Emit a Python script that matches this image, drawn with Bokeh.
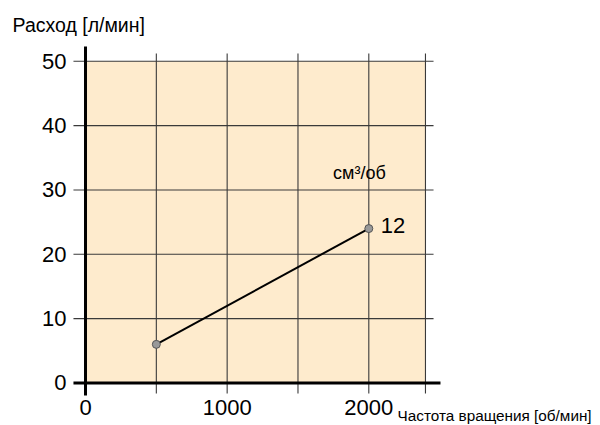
from bokeh.plotting import figure
from bokeh.models import Range1d, FixedTicker, Label, ColumnDataSource
from bokeh.core.properties import value
from bokeh.embed import file_html
from bokeh.resources import INLINE

# ---- data ----
speed_rpm = [500, 2000]
flow_lpm = [6, 24]
series_label = ["12"]
unit_label = ["см³/об"]
x_ticks = [0, 1000, 2000]
y_ticks = [0, 10, 20, 30, 40, 50]
grid_x = [500, 1000, 1500, 2000, 2400]
grid_y = [10, 20, 30, 40, 50]
area_x_max = 2400
area_y_max = 50
y_title = "Расход [л/мин]"
x_title = "Частота вращения [об/мин]"

FONT = "Liberation Sans"
# visible plot ranges (whole canvas is the frame)
x_lo, x_hi = -600.1, 3635.7
y_lo, y_hi = -6.61, 59.45
# extents of axis/grid lines
ax_x0, ax_x1 = -85, 2506
ax_y0, ax_y1 = -1.94, 52.3

p = figure(width=600, height=425, output_backend="svg", toolbar_location=None,
           x_range=Range1d(x_lo, x_hi), y_range=Range1d(y_lo, y_hi),
           min_border_left=0, min_border_right=0, min_border_top=0,
           min_border_bottom=0)
p.outline_line_color = None
p.grid.visible = False
p.background_fill_color = "white"

# axes: labels only, fixed at the chart's corner
for ax in (p.xaxis[0], p.yaxis[0]):
    ax.axis_line_color = None
    ax.major_tick_line_color = None
    ax.minor_tick_line_color = None
    ax.major_tick_out = 0
    ax.major_tick_in = 0
    ax.major_label_text_font = FONT
    ax.major_label_text_font_size = "22px"
    ax.major_label_text_color = "black"
p.xaxis.ticker = FixedTicker(ticks=x_ticks)
p.yaxis.ticker = FixedTicker(ticks=y_ticks)
p.xaxis.fixed_location = ax_y0
p.yaxis.fixed_location = ax_x0
p.xaxis.major_label_standoff = 5
p.yaxis.major_label_standoff = 7

# shaded area
p.quad(left=[0], right=[area_x_max], bottom=[0], top=[area_y_max],
       fill_color="#FEEBCD", line_color=None)

# grid lines
p.segment(x0=[ax_x0] * len(grid_y), y0=grid_y, x1=[2457] * len(grid_y), y1=grid_y,
          line_color="#3a3a3a", line_width=1.1)
p.segment(x0=grid_x, y0=[-1.63] * len(grid_x), x1=grid_x, y1=[51.2] * len(grid_x),
          line_color="#3a3a3a", line_width=1.1)

# axis lines
p.segment(x0=[0], y0=[ax_y0], x1=[0], y1=[ax_y1], line_color="black", line_width=3)
p.segment(x0=[ax_x0], y0=[0], x1=[ax_x1], y1=[0], line_color="black", line_width=3)

# data
src = ColumnDataSource(dict(x=speed_rpm, y=flow_lpm))
p.line("x", "y", source=src, line_color="black", line_width=2)
p.scatter("x", "y", source=src, size=8, fill_color="#999999", line_color="#555555",
          line_width=1)

p.text(x=[speed_rpm[-1]], y=[flow_lpm[-1] + 0.5], text=series_label, x_offset=12,
       text_baseline="middle", text_align="left", text_font=value(FONT),
       text_font_size="22px", text_color="black")
p.text(x=[1934], y=[32.7], text=unit_label, text_baseline="middle", text_align="center",
       text_font=value(FONT), text_font_size="18px", text_color="black")

p.add_layout(Label(x=-515, y=55.6, x_units="data", y_units="data", text=y_title,
                   text_font=FONT, text_font_size="19.5px", text_baseline="middle",
                   text_color="black"))
p.add_layout(Label(x=2203, y=-5.05, x_units="data", y_units="data", text=x_title,
                   text_font=FONT, text_font_size="15.3px", text_baseline="alphabetic",
                   text_color="black"))

open("out.html", "w").write(file_html(p, INLINE))
